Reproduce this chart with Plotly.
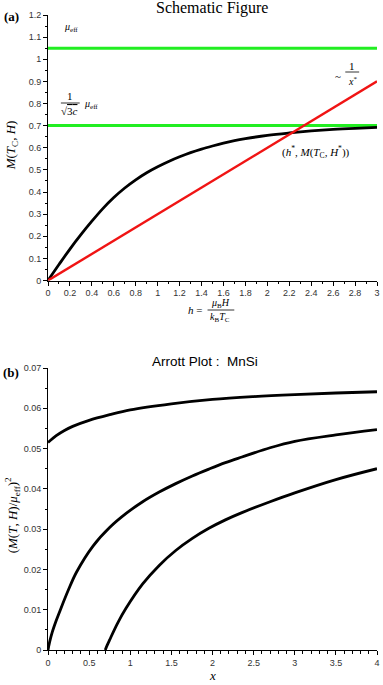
import plotly.graph_objects as go

# ---------------- data ----------------
# Panel (a): schematic magnetisation curve M(T_C, H) vs h
h_black = [0, 0.1, 0.2, 0.3, 0.4, 0.5, 0.6, 0.7, 0.8, 0.9, 1.0, 1.1, 1.2, 1.3, 1.4, 1.5, 1.6, 1.7, 1.8, 2.0, 2.2, 2.4, 2.6, 2.8, 3.0]
m_black = [0, 0.072, 0.142, 0.207, 0.268, 0.325, 0.375, 0.418, 0.455, 0.487, 0.514, 0.538, 0.559, 0.578, 0.594, 0.608, 0.621, 0.632, 0.641, 0.656, 0.667, 0.676, 0.683, 0.688, 0.692]
# straight line ~ 1/x*
h_red = [0, 3.0]
m_red = [0, 0.9]
# horizontal reference levels
mu_eff_level = 1.05
mu_eff_sat_level = 0.70

# Panel (b): Arrott plot, MnSi
x_top = [0, 0.1, 0.2, 0.3, 0.5, 0.75, 1.0, 1.5, 2.0, 2.5, 3.0, 3.5, 4.0]
y_top = [0.0515, 0.0532, 0.0545, 0.0555, 0.0570, 0.0584, 0.0596, 0.0611, 0.0622, 0.0629, 0.0634, 0.0638, 0.0641]
x_mid = [0, 0.02, 0.05, 0.1, 0.145, 0.25, 0.346, 0.547, 0.749, 0.95, 1.151, 1.352, 1.553, 1.755, 1.956, 2.157, 2.358, 2.7, 3.0, 3.5, 4.0]
y_mid = [0, 0.0020, 0.0043, 0.0073, 0.0097, 0.0150, 0.0193, 0.0258, 0.0304, 0.0339, 0.0368, 0.0392, 0.0413, 0.0432, 0.0449, 0.0465, 0.0479, 0.0502, 0.0518, 0.0534, 0.0547]
x_low = [0.696, 0.72, 0.749, 0.85, 0.95, 1.151, 1.352, 1.553, 1.755, 1.956, 2.157, 2.358, 2.7, 3.0, 3.5, 4.0]
y_low = [0, 0.0012, 0.0025, 0.0068, 0.0104, 0.0164, 0.0210, 0.0247, 0.0277, 0.0302, 0.0323, 0.0341, 0.0368, 0.0390, 0.0423, 0.0450]

# ---------------- layout helpers ----------------
W, H = 383, 685
ML, MR, MT, MB = 48, 3, 15, 35
PW, PH = W - ML - MR, H - MT - MB


def px(x):
    return (x - ML) / PW


def py(y):
    return (H - MB - y) / PH


SERIF = "Liberation Serif, DejaVu Serif, serif"
SANS = "Liberation Sans, Arial, sans-serif"
GREEN = "#22ee22"
RED = "#f01414"

fig = go.Figure()

# panel (a)
fig.add_trace(go.Scatter(x=[0, 3], y=[mu_eff_level] * 2, mode="lines",
                         line=dict(color=GREEN, width=3), xaxis="x", yaxis="y", showlegend=False))
fig.add_trace(go.Scatter(x=[0, 3], y=[mu_eff_sat_level] * 2, mode="lines",
                         line=dict(color=GREEN, width=3), xaxis="x", yaxis="y", showlegend=False))
fig.add_trace(go.Scatter(x=h_black, y=m_black, mode="lines",
                         line=dict(color="black", width=2.8, shape="spline", smoothing=1.0),
                         xaxis="x", yaxis="y", showlegend=False))
fig.add_trace(go.Scatter(x=h_red, y=m_red, mode="lines", line=dict(color=RED, width=2.4),
                         xaxis="x", yaxis="y", showlegend=False))

# panel (b)
for xs, ys in [(x_top, y_top), (x_mid, y_mid), (x_low, y_low)]:
    fig.add_trace(go.Scatter(x=xs, y=ys, mode="lines",
                             line=dict(color="black", width=2.8, shape="spline", smoothing=1.0),
                             xaxis="x2", yaxis="y2", showlegend=False))

tickfont = dict(family=SANS, size=9, color="#333")
axis_common = dict(showgrid=False, zeroline=False, showline=True, linecolor="black", linewidth=1,
                   ticks="outside", ticklen=4, tickcolor="black", tickfont=tickfont,
                   ticklabeloverflow="allow")

fig.update_layout(
    width=W, height=H, margin=dict(l=ML, r=MR, t=MT, b=MB),
    paper_bgcolor="white", plot_bgcolor="white",
    xaxis=dict(domain=[0, 1], range=[0, 3], dtick=0.2, tick0=0, anchor="y",
               minor=dict(ticks="outside", dtick=0.1, ticklen=2.5, tickcolor="black"), **axis_common),
    yaxis=dict(domain=[py(280.5), 1], range=[0, 1.2], dtick=0.1, tick0=0, anchor="x",
               minor=dict(ticks="outside", dtick=0.05, ticklen=2.5, tickcolor="black"), **axis_common),
    xaxis2=dict(domain=[0, 1], range=[0, 4], dtick=0.5, tick0=0, anchor="y2",
                minor=dict(ticks="outside", dtick=0.1, ticklen=2.5, tickcolor="black"), **axis_common),
    yaxis2=dict(domain=[0, py(368)], range=[0, 0.07], dtick=0.01, tick0=0, anchor="x2",
                minor=dict(ticks="outside", dtick=0.005, ticklen=2.5, tickcolor="black"), **axis_common),
)

ann = []


def A(text, x, y, size=11, family=SERIF, angle=0, color="black", xanchor="center"):
    ann.append(dict(text=text, x=px(x), y=py(y), xref="paper", yref="paper", showarrow=False,
                    font=dict(family=family, size=size, color=color), textangle=angle,
                    xanchor=xanchor, yanchor="middle"))


shapes = []


def L(x0, x1, y):
    shapes.append(dict(type="line", xref="paper", yref="paper", x0=px(x0), x1=px(x1), y0=py(y), y1=py(y),
                       line=dict(color="black", width=0.8)))


# titles
A("Schematic Figure", 213, 8, size=16)
A("<b>(a)</b>", 11, 17, size=13)
A("<b>(b)</b>", 11, 372, size=13)
A("Arrott Plot :  MnSi", 206, 361, size=13.5, family=SANS)

# panel (a) annotations
A("<i>μ</i><sub>eff</sub>", 62, 27, size=10, xanchor="left")
A("1", 70, 96, size=11)
L(61, 80, 103)
A("√<span style='text-decoration:overline'>3<i>c</i></span>", 70, 111, size=11)
A("<i>μ</i><sub>eff</sub>", 82, 105, size=10, xanchor="left")
A("~", 341, 76, size=11)
A("1", 355, 66, size=11)
L(348, 362, 72)
A("<i>x</i><sup>*</sup>", 355, 81, size=10)
A("(<i>h</i><sup>*</sup>, <i>M</i>(<i>T</i><sub>C</sub>, <i>H</i><sup>*</sup>))", 318, 152, size=11)

# axis titles
A("<i>M</i>(<i>T</i><sub>C</sub>, <i>H</i>)", 12, 145, size=13, angle=-90)
A("<i>h</i> =", 205, 310, size=11, xanchor="right")
A("<i>μ</i><sub>B</sub><i>H</i>", 222, 303, size=10)
L(209, 236, 310)
A("<i>k</i><sub>B</sub><i>T</i><sub>C</sub>", 222, 318, size=10)

A("(<i>M</i>(<i>T</i>, <i>H</i>)/<i>μ</i><sub>eff</sub>)<sup>2</sup>", 12, 515, size=13, angle=-90)
A("<i>x</i>", 214, 675, size=13)

fig.update_layout(annotations=ann, shapes=shapes)
fig.write_html("out.html", config={"displayModeBar": False},
               post_script="document.body.style.margin='0';document.body.style.padding='0';"
                           "document.body.style.overflow='hidden';")
